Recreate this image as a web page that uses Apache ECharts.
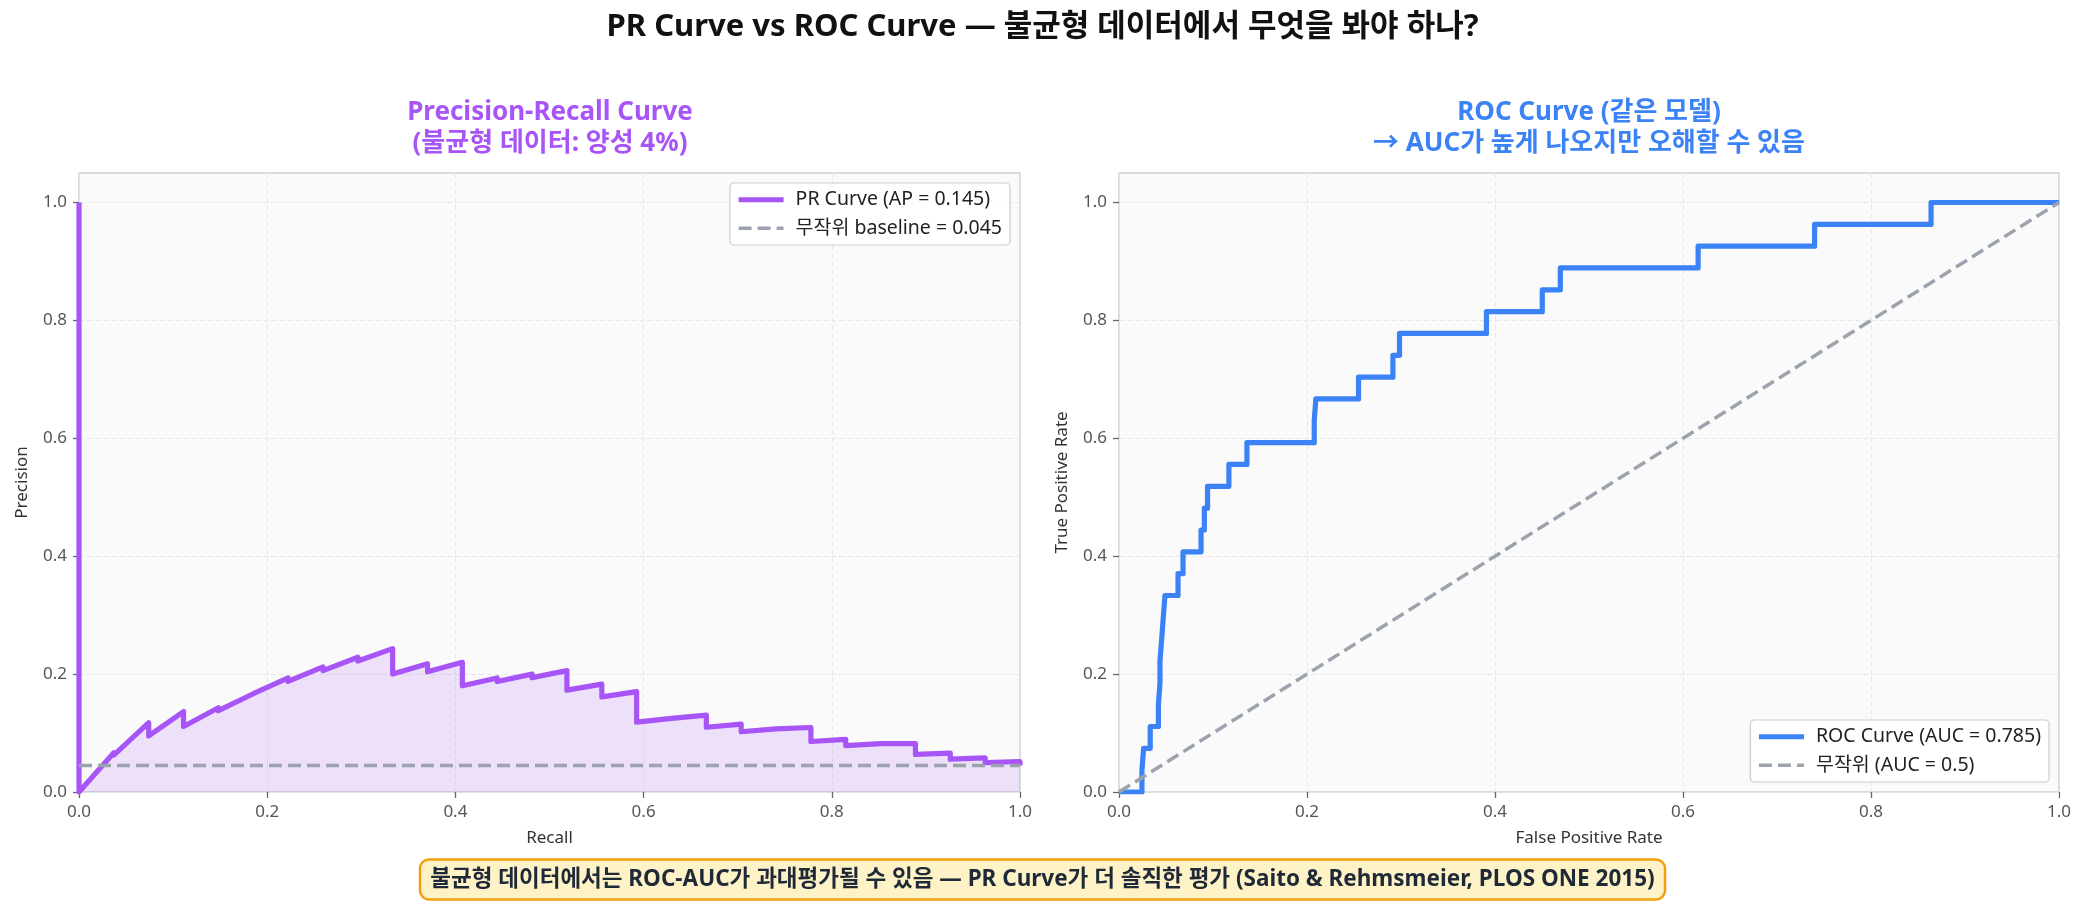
<!DOCTYPE html>
<html>
<head>
<meta charset="utf-8">
<script src="https://cdn.jsdelivr.net/npm/echarts@6/dist/echarts.min.js"></script>
<style>
  html, body { margin: 0; padding: 0; background: #ffffff; }
  #chart { width: 2085px; height: 906px; }
</style>
</head>
<body>
<div id="chart"></div>
<script>
// PR curve points (recall, precision)
const prRecall = [0, 0, 0.0370, 0.0370, 0.0741, 0.0741, 0.1111, 0.1111, 0.1481, 0.1481, 0.1852,
  0.2222, 0.2222, 0.2593, 0.2593, 0.2963, 0.2963, 0.3333, 0.3333, 0.3704, 0.3704, 0.4074, 0.4074,
  0.4444, 0.4444, 0.4815, 0.4815, 0.5185, 0.5185, 0.5556, 0.5556, 0.5926, 0.5926, 0.6296, 0.6296,
  0.6667, 0.6667, 0.7037, 0.7037, 0.7407, 0.7407, 0.7778, 0.7778, 0.8148, 0.8148, 0.8519, 0.8519,
  0.8889, 0.8889, 0.9259, 0.9259, 0.9630, 0.9630, 1.0, 1.0];
const prPrecision = [1.0, 0, 0.0667, 0.0625, 0.1176, 0.0952, 0.1364, 0.1111, 0.1429, 0.1379, 0.1667,
  0.1935, 0.1875, 0.2121, 0.2059, 0.2286, 0.2222, 0.2432, 0.2000, 0.2174, 0.2041, 0.2200, 0.1803,
  0.1935, 0.1875, 0.2000, 0.1940, 0.2059, 0.1728, 0.1829, 0.1613, 0.1702, 0.1185, 0.1250, 0.1241,
  0.1304, 0.1098, 0.1152, 0.1022, 0.1070, 0.1047, 0.1094, 0.0857, 0.0894, 0.0786, 0.0819, 0.0788,
  0.0819, 0.0637, 0.0661, 0.0557, 0.0578, 0.0499, 0.0517, 0.0450];
const baselinePrecision = 0.045;

// ROC curve corner points (fpr, tpr)
const rocFpr = [0, 0.0244, 0.0262, 0.0332, 0.0419, 0.0436, 0.0436, 0.0454, 0.0471, 0.0489, 0.0628,
  0.0681, 0.0873, 0.0908, 0.0942, 0.1169, 0.1361, 0.2077, 0.2094, 0.2548, 0.2914, 0.2984, 0.3909,
  0.4503, 0.4695, 0.6161, 0.7400, 0.8639, 1.0];
const rocTpr = [0, 0.0370, 0.0741, 0.1111, 0.1481, 0.1852, 0.2222, 0.2593, 0.2963, 0.3333, 0.3704,
  0.4074, 0.4444, 0.4815, 0.5185, 0.5556, 0.5926, 0.6296, 0.6667, 0.7037, 0.7407, 0.7778, 0.8148,
  0.8519, 0.8889, 0.9259, 0.9630, 1.0, 1.0];
const randomLine = [0, 1];

const tickValues = [0, 0.2, 0.4, 0.6, 0.8, 1.0];

const FONT = '"Noto Sans", "Noto Sans CJK KR", sans-serif';
const purple = '#a855f7';
const blue = '#3b82f6';
const grey = '#9ca3af';
const CURVE_W = 5.2;
const DASH_W = 3.5;

const chart = echarts.init(document.getElementById('chart'));

function zip(xs, ys) {
  return xs.map((x, i) => [x, ys[i]]);
}

function xAxisFor(gridIndex, name) {
  return {
    type: 'value', gridIndex, min: 0, max: 1, interval: 0.2,
    name, nameLocation: 'middle', nameGap: 38,
    nameTextStyle: { fontFamily: FONT, fontSize: 17, color: '#333' },
    axisLine: { show: false },
    axisTick: { show: true, length: 6, lineStyle: { color: '#666', width: 1.3 } },
    axisLabel: { fontFamily: FONT, fontSize: 17, color: '#555', margin: 12, formatter: v => v.toFixed(1) },
    splitLine: { show: true, lineStyle: { color: '#e6e6e6', width: 1, type: [5, 3] } }
  };
}

function yAxisFor(gridIndex, name) {
  return {
    type: 'value', gridIndex, min: 0, max: 1.05, interval: 0.2,
    name, nameLocation: 'middle', nameGap: 48,
    nameTextStyle: { fontFamily: FONT, fontSize: 17, color: '#333' },
    axisLine: { show: false },
    axisTick: { show: true, length: 6, customValues: tickValues, lineStyle: { color: '#666', width: 1.3 } },
    axisLabel: {
      fontFamily: FONT, fontSize: 17, color: '#555', margin: 12, customValues: tickValues,
      formatter: v => (v > 1.01 ? '' : v.toFixed(1))
    },
    splitLine: { show: true, lineStyle: { color: '#e6e6e6', width: 1, type: [5, 3] } }
  };
}

const legendBase = {
  orient: 'vertical',
  itemWidth: 45, itemHeight: 14, itemGap: 9,
  padding: [7, 8, 7, 6],
  backgroundColor: 'rgba(255,255,255,0.85)',
  borderColor: '#cccccc', borderWidth: 1.2, borderRadius: 4,
  itemStyle: { opacity: 0 },
  textStyle: { fontFamily: FONT, fontSize: 19.5, color: '#222', lineHeight: 19, padding: [0, 0, 0, 7] }
};

chart.setOption({
  animation: false,
  backgroundColor: '#ffffff',
  title: [
    {
      text: 'PR Curve vs ROC Curve — 불균형 데이터에서 무엇을 봐야 하나?',
      left: 'center', top: 10, padding: 0,
      textStyle: { fontFamily: FONT, fontSize: 31, fontWeight: 'bold', color: '#111', lineHeight: 34 }
    },
    {
      text: 'Precision-Recall Curve\n(불균형 데이터: 양성 4%)',
      left: 550, top: 97, padding: 0, textAlign: 'center',
      textStyle: { fontFamily: FONT, fontSize: 26, fontWeight: 'bold', color: purple, lineHeight: 31 }
    },
    {
      text: 'ROC Curve (같은 모델)\n→ AUC가 높게 나오지만 오해할 수 있음',
      left: 1589, top: 97, padding: 0, textAlign: 'center',
      textStyle: { fontFamily: FONT, fontSize: 26, fontWeight: 'bold', color: blue, lineHeight: 31 }
    },
    {
      text: '불균형 데이터에서는 ROC-AUC가 과대평가될 수 있음 — PR Curve가 더 솔직한 평가 (Saito & Rehmsmeier, PLOS ONE 2015)',
      left: 'center', top: 859, padding: [8, 11],
      backgroundColor: '#fef3c7', borderColor: '#f59e0b', borderWidth: 2.5, borderRadius: 9,
      textStyle: { fontFamily: FONT, fontSize: 22.5, fontWeight: 'bold', color: '#1f2937', lineHeight: 25 }
    }
  ],
  grid: [
    { left: 79, top: 173, width: 941, height: 619, show: true, backgroundColor: '#fafafa', borderColor: '#d0d0d0', borderWidth: 1.5 },
    { left: 1119, top: 173, width: 940, height: 619, show: true, backgroundColor: '#fafafa', borderColor: '#d0d0d0', borderWidth: 1.5 }
  ],
  xAxis: [xAxisFor(0, 'Recall'), xAxisFor(1, 'False Positive Rate')],
  yAxis: [yAxisFor(0, 'Precision'), yAxisFor(1, 'True Positive Rate')],
  legend: [
    Object.assign({}, legendBase, {
      top: 183, right: 1075,
      data: [
        { name: 'PR Curve (AP = 0.145)', lineStyle: { width: CURVE_W } },
        { name: '무작위 baseline = 0.045', lineStyle: { width: DASH_W } }
      ]
    }),
    Object.assign({}, legendBase, {
      top: 720, right: 36,
      data: [
        { name: 'ROC Curve (AUC = 0.785)', lineStyle: { width: CURVE_W } },
        { name: '무작위 (AUC = 0.5)', lineStyle: { width: DASH_W } }
      ]
    })
  ],
  series: [
    {
      name: 'PR Curve (AP = 0.145)', type: 'line', xAxisIndex: 0, yAxisIndex: 0,
      data: zip(prRecall, prPrecision), symbol: 'none',
      lineStyle: { color: purple, width: CURVE_W, join: 'round' },
      itemStyle: { color: purple },
      areaStyle: { color: purple, opacity: 0.15 }
    },
    {
      name: '무작위 baseline = 0.045', type: 'line', xAxisIndex: 0, yAxisIndex: 0,
      data: [[0, baselinePrecision], [1, baselinePrecision]], symbol: 'none',
      lineStyle: { color: grey, width: DASH_W, type: [13, 6] },
      itemStyle: { color: grey }
    },
    {
      name: 'ROC Curve (AUC = 0.785)', type: 'line', xAxisIndex: 1, yAxisIndex: 1,
      data: zip(rocFpr, rocTpr), symbol: 'none', step: 'end',
      lineStyle: { color: blue, width: CURVE_W, join: 'round' },
      itemStyle: { color: blue }
    },
    {
      name: '무작위 (AUC = 0.5)', type: 'line', xAxisIndex: 1, yAxisIndex: 1,
      data: zip(randomLine, randomLine), symbol: 'none',
      lineStyle: { color: grey, width: DASH_W, type: [13, 6] },
      itemStyle: { color: grey }
    }
  ]
});
</script>
</body>
</html>
